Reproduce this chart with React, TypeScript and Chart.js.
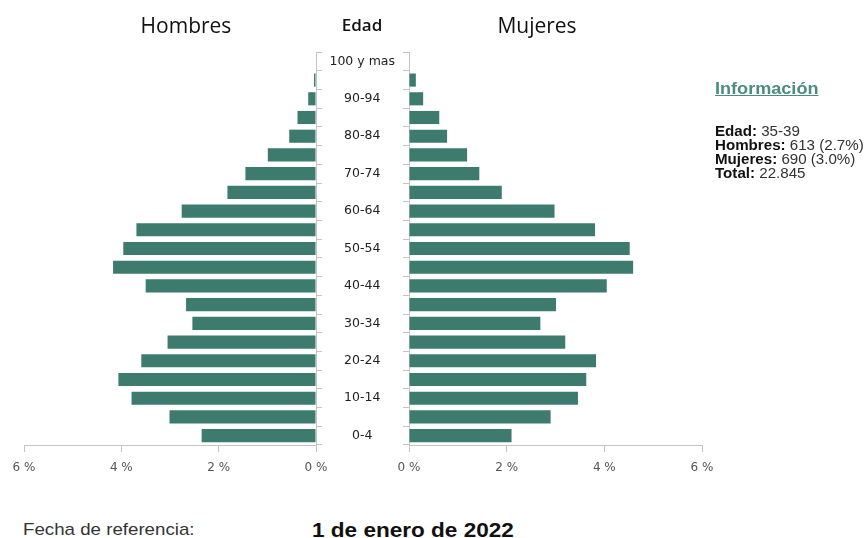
import React, { useEffect, useRef } from "react";
import { Chart, registerables } from "chart.js";

Chart.register(...registerables);

// Age groups, top to bottom
const AGE_GROUPS = [
  "100 y mas", "95-99", "90-94", "85-89", "80-84", "75-79", "70-74",
  "65-69", "60-64", "55-59", "50-54", "45-49", "40-44", "35-39",
  "30-34", "25-29", "20-24", "15-19", "10-14", "5-9", "0-4",
];
// Percent of total population
const HOMBRES_PCT = [
  0.01, 0.04, 0.16, 0.38, 0.55, 0.99, 1.45, 1.82, 2.76, 3.69, 3.96,
  4.17, 3.5, 2.67, 2.54, 3.05, 3.59, 4.06, 3.79, 3.01, 2.35,
];
const MUJERES_PCT = [
  0.01, 0.14, 0.29, 0.62, 0.78, 1.19, 1.44, 1.9, 2.98, 3.81, 4.52,
  4.59, 4.05, 3.01, 2.69, 3.2, 3.83, 3.63, 3.46, 2.9, 2.1,
];
const X_TICKS = [0, 2, 4, 6];

const BAR_COLOR = "#3e7b6f";
const AXIS_COLOR = "#c4c4c4";

function makeConfig(side: "left" | "right"): any {
  const isLeft = side === "left";
  return {
    type: "bar",
    data: {
      labels: AGE_GROUPS,
      datasets: [
        {
          label: isLeft ? "Hombres" : "Mujeres",
          data: isLeft ? HOMBRES_PCT : MUJERES_PCT,
          backgroundColor: BAR_COLOR,
          borderWidth: 0,
          barPercentage: 0.9,
          categoryPercentage: 0.78,
        },
      ],
    },
    options: {
      indexAxis: "y",
      responsive: false,
      animation: false,
      events: [],
      layout: {
        padding: isLeft
          ? { left: 24, top: 52, right: 0, bottom: 0 }
          : { left: 0, top: 52, right: 40, bottom: 0 },
      },
      plugins: { legend: { display: false }, tooltip: { enabled: false } },
      scales: {
        x: {
          type: "linear",
          reverse: isLeft,
          min: 0,
          max: 6,
          afterBuildTicks: (s: any) => {
            s.ticks = X_TICKS.map((v) => ({ value: v }));
          },
          ticks: {
            callback: (v: any) => `${v} %`,
            font: { family: "DejaVu Sans", size: 12 },
            color: "#555",
            padding: 9,
            maxRotation: 0,
          },
          grid: {
            drawOnChartArea: false,
            drawTicks: true,
            tickLength: 7,
            color: AXIS_COLOR,
          },
          border: { display: true, color: AXIS_COLOR },
          afterFit: (s: any) => {
            s.height = 35;
          },
        },
        y: {
          type: "category",
          position: isLeft ? "right" : "left",
          offset: true,
          ticks: isLeft
            ? { display: false }
            : {
                display: true,
                autoSkip: false,
                crossAlign: "center",
                padding: 8,
                font: { family: "DejaVu Sans", size: 12.5 },
                color: "#222",
                callback: (_v: any, i: number) =>
                  i % 2 === 0 ? AGE_GROUPS[i] : "",
              },
          grid: {
            drawOnChartArea: false,
            drawTicks: true,
            tickLength: 6,
            offset: true,
            color: AXIS_COLOR,
          },
          border: { display: true, color: AXIS_COLOR },
          afterFit: (s: any) => {
            s.width = isLeft ? 14 : 87;
          },
        },
      },
    },
  };
}

function Pyramid() {
  const leftRef = useRef<HTMLCanvasElement>(null);
  const rightRef = useRef<HTMLCanvasElement>(null);
  useEffect(() => {
    const l = new Chart(leftRef.current as HTMLCanvasElement, makeConfig("left"));
    const r = new Chart(rightRef.current as HTMLCanvasElement, makeConfig("right"));
    return () => {
      l.destroy();
      r.destroy();
    };
  }, []);
  return (
    <>
      <canvas
        ref={leftRef}
        width={330}
        height={480}
        style={{ position: "absolute", left: 0, top: 0, width: 330, height: 480 }}
      />
      <canvas
        ref={rightRef}
        width={420}
        height={480}
        style={{ position: "absolute", left: 322, top: 0, width: 420, height: 480 }}
      />
    </>
  );
}

const abs = (s: React.CSSProperties): React.CSSProperties => ({
  position: "absolute",
  whiteSpace: "nowrap",
  ...s,
});

export default function App() {
  const titleFont = '"Open Sans", "DejaVu Sans", sans-serif';
  const arial = '"Liberation Sans", Arial, sans-serif';
  const info: [string, string][] = [
    ["Edad:", "35-39"],
    ["Hombres:", "613 (2.7%)"],
    ["Mujeres:", "690 (3.0%)"],
    ["Total:", "22.845"],
  ];
  return (
    <div
      style={{
        position: "absolute",
        left: 0,
        top: 0,
        width: 868,
        height: 538,
        background: "#fff",
        overflow: "hidden",
      }}
    >
      <Pyramid />
      <div style={abs({ left: 86, width: 200, top: 15, textAlign: "center", fontFamily: titleFont, fontSize: 21, lineHeight: "21px", color: "#111" })}>
        Hombres
      </div>
      <div style={abs({ left: 262, width: 200, top: 16, textAlign: "center", fontFamily: titleFont, fontSize: 17, fontWeight: 600, lineHeight: "17px", color: "#111" })}>
        Edad
      </div>
      <div style={abs({ left: 437, width: 200, top: 15, textAlign: "center", fontFamily: titleFont, fontSize: 21, lineHeight: "21px", color: "#111" })}>
        Mujeres
      </div>

      <div style={abs({ left: 715, top: 81, fontFamily: arial, fontWeight: "bold", fontSize: 16, lineHeight: "16px", color: "#4b8c80", textDecoration: "underline", transform: "scaleX(1.13)", transformOrigin: "left center" })}>
        Información
      </div>
      {info.map(([k, v], i) => (
        <div
          key={k}
          style={abs({
            left: 715,
            top: 124 + i * 14,
            fontFamily: arial,
            fontSize: 14,
            lineHeight: "14px",
            color: "#333",
            transform: "scaleX(1.08)",
            transformOrigin: "left center",
          })}
        >
          <b style={{ color: "#111" }}>{k}</b> {v}
        </div>
      ))}

      <div style={abs({ left: 23, top: 521, fontFamily: arial, fontSize: 17, lineHeight: "17px", color: "#333", transform: "scaleX(1.1)", transformOrigin: "left center" })}>
        Fecha de referencia:
      </div>
      <div style={abs({ left: 312, top: 519, fontFamily: arial, fontSize: 20.5, fontWeight: "bold", lineHeight: "21px", color: "#111", transform: "scaleX(1.1)", transformOrigin: "left center" })}>
        1 de enero de 2022
      </div>
    </div>
  );
}
